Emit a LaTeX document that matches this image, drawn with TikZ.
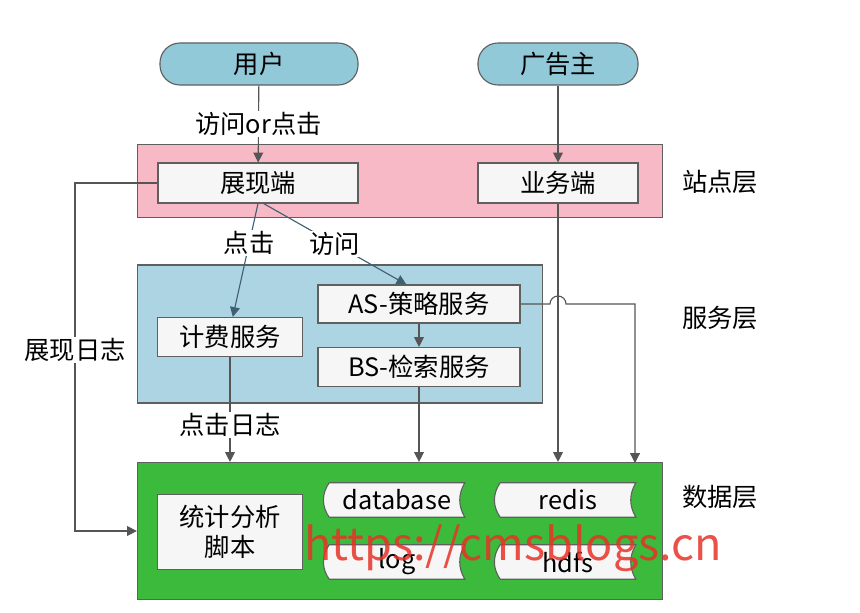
\documentclass[tikz,border=0pt]{standalone}
\usepackage{fontspec}
\setmainfont{Noto Sans CJK SC}
\usetikzlibrary{arrows.meta,calc}
\definecolor{pillc}{RGB}{146, 201, 216}
\definecolor{sitec}{RGB}{247, 185, 198}
\definecolor{servc}{RGB}{172, 212, 226}
\definecolor{datac}{RGB}{60, 186, 60}
\definecolor{boxc}{RGB}{246, 246, 246}
\definecolor{edgec}{RGB}{95, 95, 95}
\definecolor{flowc}{RGB}{85, 85, 85}
\definecolor{bluec}{RGB}{65, 95, 115}
\definecolor{markc}{RGB}{232, 50, 40}
\pgfdeclarelayer{back}
\pgfdeclarelayer{mid}
\pgfsetlayers{back,mid,main}

\begin{document}
\begin{tikzpicture}[x=0.025cm, y=-0.025cm, font=\fontsize{18}{21}\selectfont]
    \tikzstyle{pill} = [rectangle, draw=edgec, thick, fill=pillc, rounded corners=0.5cm,
    minimum height=1.05cm, inner sep=0pt];
    \tikzstyle{box} = [rectangle, draw=edgec, thick, fill=boxc, inner sep=0pt];
    \tikzstyle{layer} = [rectangle, draw=edgec, thick, inner sep=0pt];
    \tikzstyle{store} = [rectangle, draw=none, minimum width=3.375cm, minimum height=0.85cm, inner sep=0pt];
    \tikzstyle{storeline} = [draw=edgec, thick, fill=boxc];
    \tikzstyle{lbl} = [fill=white, inner sep=1pt];
    \tikzstyle{line} = [draw=flowc, thick, -{Triangle[length=7pt,width=7pt]}];
    \tikzstyle{bline} = [draw=bluec, thick, -{Triangle[length=7pt,width=7pt]}];
    \useasboundingbox (0,0) rectangle (860,612);

    % Layers
    \begin{pgfonlayer}{back}
      \node [layer, fill=sitec, minimum width=13.125cm, minimum height=1.825cm] (site) at (400,181) {};
      \node [layer, fill=servc, minimum width=10.125cm, minimum height=3.45cm] (serv) at (340,334) {};
      \node [layer, fill=datac, minimum width=13.125cm, minimum height=3.425cm] (data) at (400,531) {};
    \end{pgfonlayer}
    \node (sitename) at (720,182) {站点层};
    \node (servname) at (720,318) {服务层};
    \node (dataname) at (720,497) {数据层};

    % Actors
    \node [pill, minimum width=4.95cm] (user) at (259,64) {用户};
    \node [pill, minimum width=4cm] (adv) at (558,64) {广告主};

    % Blocks
    \node [box, minimum width=5cm, minimum height=1cm] (show) at (258,183) {展现端};
    \node [box, minimum width=4cm, minimum height=1cm] (biz) at (558,183) {业务端};
    \node [box, minimum width=5.05cm, minimum height=0.95cm] (as) at (419,304) {AS-策略服务};
    \node [box, minimum width=5.05cm, minimum height=0.975cm] (bs) at (419,367) {BS-检索服务};
    \node [box, minimum width=3.625cm, minimum height=0.975cm] (fee) at (230,337) {计费服务};
    \node [box, minimum width=3.625cm, minimum height=1.875cm, align=center] (stat) at (230,532) {统计分析\\脚本};
    \node [store] (db) at (397,500) {database};
    \node [store] (redis) at (568,500) {redis};
    \node [store] (log) at (397,562) {log};
    \node [store] (hdfs) at (568,562) {hdfs};
    \begin{pgfonlayer}{mid}
      \foreach \n in {db,redis,log,hdfs}
        \draw [storeline] (\n.north west) to[bend right=35] (\n.south west) -- (\n.south east)
          to[bend left=30] (\n.north east) -- cycle;
    \end{pgfonlayer}

    \coordinate (kvin) at (635,463);
    \coordinate (logx) at (75,0);

    % Links
    \draw [line] (user) -- node[lbl] (visitclick) {访问or点击} (show);
    \draw [line] (adv) -- (biz);
    \draw [bline] (show.south) -- node[lbl, pos=0.35] (click) {点击} ([xshift=2]fee.north);
    \draw [bline] ([xshift=4]show.south) -- node[lbl, pos=0.5] (visit) {访问} ([xshift=-9]as.north);
    \draw [line] (as) -- (bs);
    \draw [line] (fee) -- node[lbl, pos=0.65] (clicklog) {点击日志} (fee |- data.north);
    \draw [line] (bs) -- (bs |- data.north);
    \draw [line] (biz) -- (biz |- data.north);
    \draw [line] (as.east) -- ($(as.east -| biz.south)+(-8,0)$) arc[start angle=180, end angle=0, radius=0.2cm]
      -| (kvin);
    \draw [line] (show.west) -| node[lbl, pos=0.74] (showlog) {展现日志} (logx |- data.west) -- (data.west);

    % Watermark
    \node [text=markc, opacity=0.85, font=\fontsize{32}{36}\selectfont] (mark) at (513,548) {https://cmsblogs.cn};
\end{tikzpicture}
\end{document}
